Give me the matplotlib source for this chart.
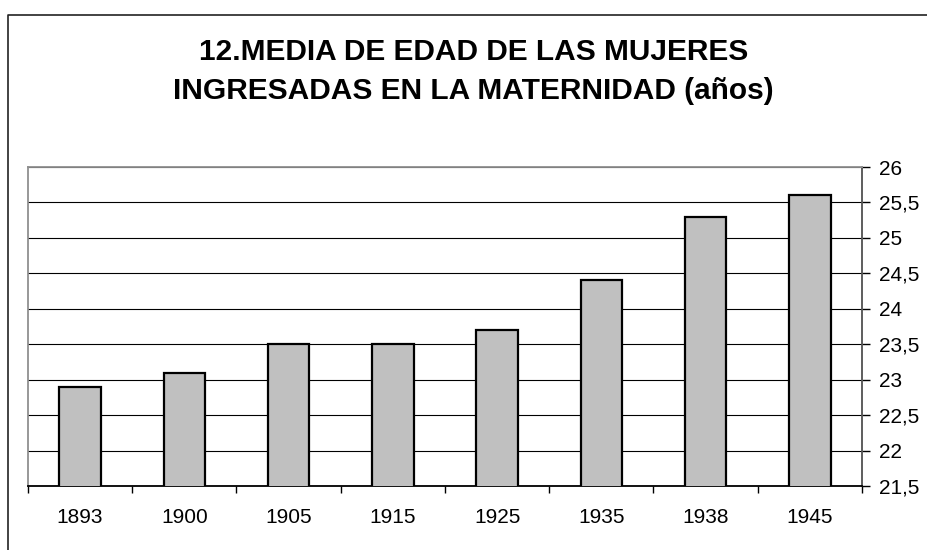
import matplotlib.pyplot as plt
from matplotlib.lines import Line2D
import numpy as np

years = ["1893", "1900", "1905", "1915", "1925", "1935", "1938", "1945"]
ages = [22.9, 23.1, 23.5, 23.5, 23.7, 24.4, 25.3, 25.6]
y_ticks = [21.5, 22, 22.5, 23, 23.5, 24, 24.5, 25, 25.5, 26]

plt.rcParams['font.family'] = ['Liberation Sans', 'DejaVu Sans']

fig = plt.figure(figsize=(9.28, 5.5), dpi=100)
# outer chart border (only top and left edges are inside the image)
bx, by = 7.5 / 928, 1 - 15 / 550
fig.lines.append(Line2D([bx, bx, 1.0], [0.0, by, by], transform=fig.transFigure,
                        color='#222222', linewidth=1.2))

ax = fig.add_axes([28 / 928, 1 - 486 / 550, (862 - 28) / 928, (486 - 167) / 550])
x = np.arange(len(years))
ax.bar(x, ages, width=0.4, bottom=0, color='#c0c0c0', edgecolor='black',
       linewidth=1.6, zorder=3)

ax.set_xlim(-0.5, len(years) - 0.5)
ax.set_ylim(21.5, 26)
ax.yaxis.tick_right()
ax.set_yticks(y_ticks)
ax.set_yticklabels([("%g" % v).replace('.', ',') for v in y_ticks], fontsize=15)
ax.tick_params(axis='y', direction='out', length=6, width=1, pad=6, colors='black')
ax.grid(axis='y', color='black', linewidth=0.8, zorder=0)

ax.set_xticks(np.arange(len(years) + 1) - 0.5)
ax.set_xticklabels([])
ax.tick_params(axis='x', which='major', direction='out', length=5, width=1)
ax.set_xticks(x, minor=True)
ax.set_xticklabels(years, minor=True, fontsize=15)
ax.tick_params(axis='x', which='minor', length=0, pad=16)

ax.spines['top'].set_color('#909090')
ax.spines['left'].set_color('#909090')
ax.spines['right'].set_color('#505050')
ax.spines['bottom'].set_color('black')
for s in ax.spines.values():
    s.set_linewidth(1.3)

fig.text(0.51, 1 - 71.5 / 550,
         "12.MEDIA DE EDAD DE LAS MUJERES\nINGRESADAS EN LA MATERNIDAD (años)",
         ha='center', va='center', fontsize=21.5, fontweight='bold', linespacing=1.5)

fig.savefig("out.png", dpi=100)
